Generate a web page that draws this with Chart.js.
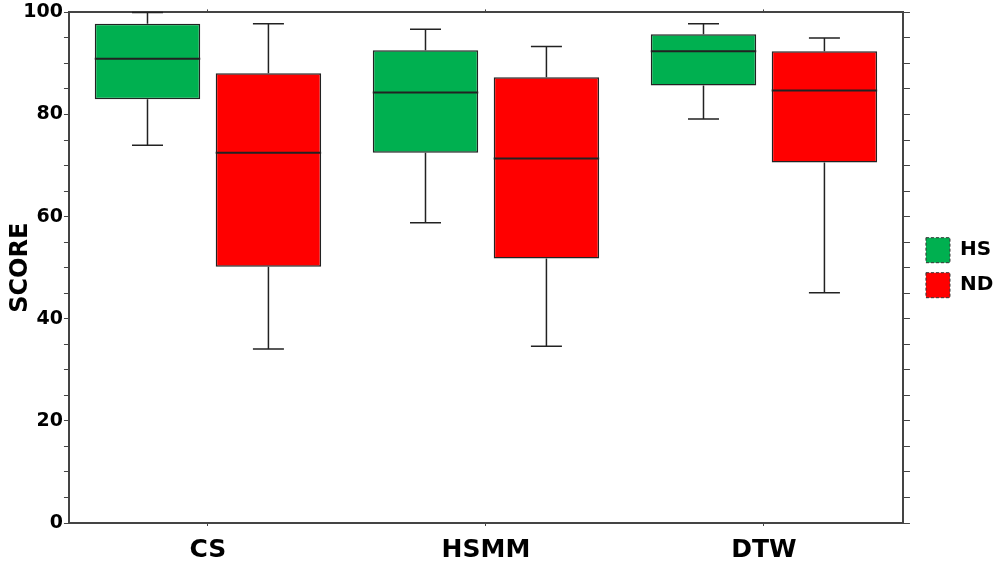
<!DOCTYPE html>
<html>
<head>
<meta charset="utf-8">
<script src="https://cdn.jsdelivr.net/npm/chart.js@4"></script>
<style>
  html, body { margin: 0; padding: 0; background: #fff; }
  #wrap { width: 994px; height: 569px; }
</style>
</head>
<body>
<div id="wrap"><canvas id="box-chart"></canvas></div>
<script>
// Box plot: SCORE by method, HS vs ND

const categories = ['CS', 'HSMM', 'DTW'];

// HS (green)
const hsMin    = [74.0, 58.8, 79.1];
const hsQ1     = [83.0, 72.5, 85.7];
const hsMedian = [90.9, 84.3, 92.4];
const hsQ3     = [97.8, 92.6, 95.7];
const hsMax    = [100.0, 96.7, 97.8];

// ND (red)
const ndMin    = [34.1, 34.6, 45.1];
const ndQ1     = [50.2, 51.8, 70.6];
const ndMedian = [72.5, 71.4, 84.7];
const ndQ3     = [88.1, 87.3, 92.4];
const ndMax    = [97.8, 93.3, 95.0];

const yTicks = [0, 20, 40, 60, 80, 100];

const FONT = '"DejaVu Sans", Verdana, sans-serif';
const AXIS = '#444';
const LINE = '#222';

// whiskers + median drawn on top of the floating bars
const whiskerPlugin = {
  id: 'whiskers',
  afterDatasetsDraw(chart) {
    const { ctx } = chart;
    const y = chart.scales.y;
    chart.data.datasets.forEach((ds, di) => {
      const meta = chart.getDatasetMeta(di);
      meta.data.forEach((bar, i) => {
        const x = bar.x;
        const half = bar.width / 2;
        const cap = 15.5;
        const pMin = y.getPixelForValue(ds.whMin[i]);
        const pMax = y.getPixelForValue(ds.whMax[i]);
        const pQ1  = y.getPixelForValue(ds.data[i][0]);
        const pQ3  = y.getPixelForValue(ds.data[i][1]);
        const pMed = y.getPixelForValue(ds.median[i]);

        ctx.save();
        ctx.strokeStyle = LINE;
        ctx.lineWidth = 1.5;
        ctx.beginPath();
        ctx.moveTo(x, pQ3); ctx.lineTo(x, pMax);
        ctx.moveTo(x - cap, pMax); ctx.lineTo(x + cap, pMax);
        ctx.moveTo(x, pQ1); ctx.lineTo(x, pMin);
        ctx.moveTo(x - cap, pMin); ctx.lineTo(x + cap, pMin);
        ctx.stroke();

        ctx.lineWidth = 2;
        ctx.beginPath();
        ctx.moveTo(x - half, pMed); ctx.lineTo(x + half, pMed);
        ctx.stroke();
        ctx.restore();
      });
    });
  }
};

new Chart(document.getElementById('box-chart'), {
  type: 'bar',
  data: {
    labels: categories,
    datasets: [
      {
        label: 'HS',
        data: hsQ1.map((q, i) => [q, hsQ3[i]]),
        whMin: hsMin, whMax: hsMax, median: hsMedian,
        backgroundColor: '#00B050',
        borderColor: LINE,
        borderWidth: 1.5,
        borderSkipped: false,
      },
      {
        label: 'ND',
        data: ndQ1.map((q, i) => [q, ndQ3[i]]),
        whMin: ndMin, whMax: ndMax, median: ndMedian,
        backgroundColor: '#FF0000',
        borderColor: LINE,
        borderWidth: 1.5,
        borderSkipped: false,
      }
    ]
  },
  options: {
    responsive: true,
    maintainAspectRatio: false,
    animation: false,
    categoryPercentage: 0.87,
    barPercentage: 0.872,
    layout: { padding: { top: 9, bottom: -6, left: 0, right: -9.3 } },
    plugins: {
      tooltip: { enabled: false },
      legend: {
        position: 'right',
        fullSize: false,
        labels: {
          color: '#000',
          font: { family: FONT, size: 20, weight: 'bold' },
          boxWidth: 24,
          boxHeight: 25,
          padding: 10,
          generateLabels: chart => chart.data.datasets.map((ds, i) => ({
            text: ds.label,
            fillStyle: ds.backgroundColor,
            strokeStyle: '#333',
            lineWidth: 1,
            lineDash: [3, 2],
            datasetIndex: i,
          }))
        }
      }
    },
    scales: {
      x: {
        position: 'bottom',
        offset: true,
        grid: { display: true, offset: false, drawOnChartArea: false, tickLength: 3, color: AXIS },
        border: { color: AXIS, width: 2 },
        ticks: { color: '#000', padding: 9.5, font: { family: FONT, size: 25, weight: 'bold' } }
      },
      x2: {
        type: 'category',
        position: 'top',
        offset: true,
        labels: categories,
        grid: { offset: false, drawOnChartArea: false, tickLength: 3, color: AXIS },
        border: { color: AXIS, width: 2 },
        ticks: { display: false }
      },
      y: {
        position: 'left',
        min: 0,
        max: 100,
        grid: { drawOnChartArea: false, tickLength: 5, color: AXIS },
        border: { color: AXIS, width: 2 },
        ticks: {
          stepSize: 5,
          autoSkip: false,
          padding: 1,
          color: '#000',
          font: { family: FONT, size: 19, weight: 'bold' },
          callback: v => yTicks.includes(v) ? v : ''
        },
        title: {
          display: true,
          text: 'SCORE',
          color: '#000',
          font: { family: FONT, size: 24, weight: 'bold', lineHeight: 1 },
          padding: { top: 9, bottom: -10.7 }
        }
      },
      y2: {
        position: 'right',
        min: 0,
        max: 100,
        grid: { drawOnChartArea: false, tickLength: 7, color: AXIS },
        border: { color: AXIS, width: 2 },
        ticks: { stepSize: 5, autoSkip: false, padding: 3, callback: () => '' }
      }
    }
  },
  plugins: [whiskerPlugin]
});
</script>
</body>
</html>
